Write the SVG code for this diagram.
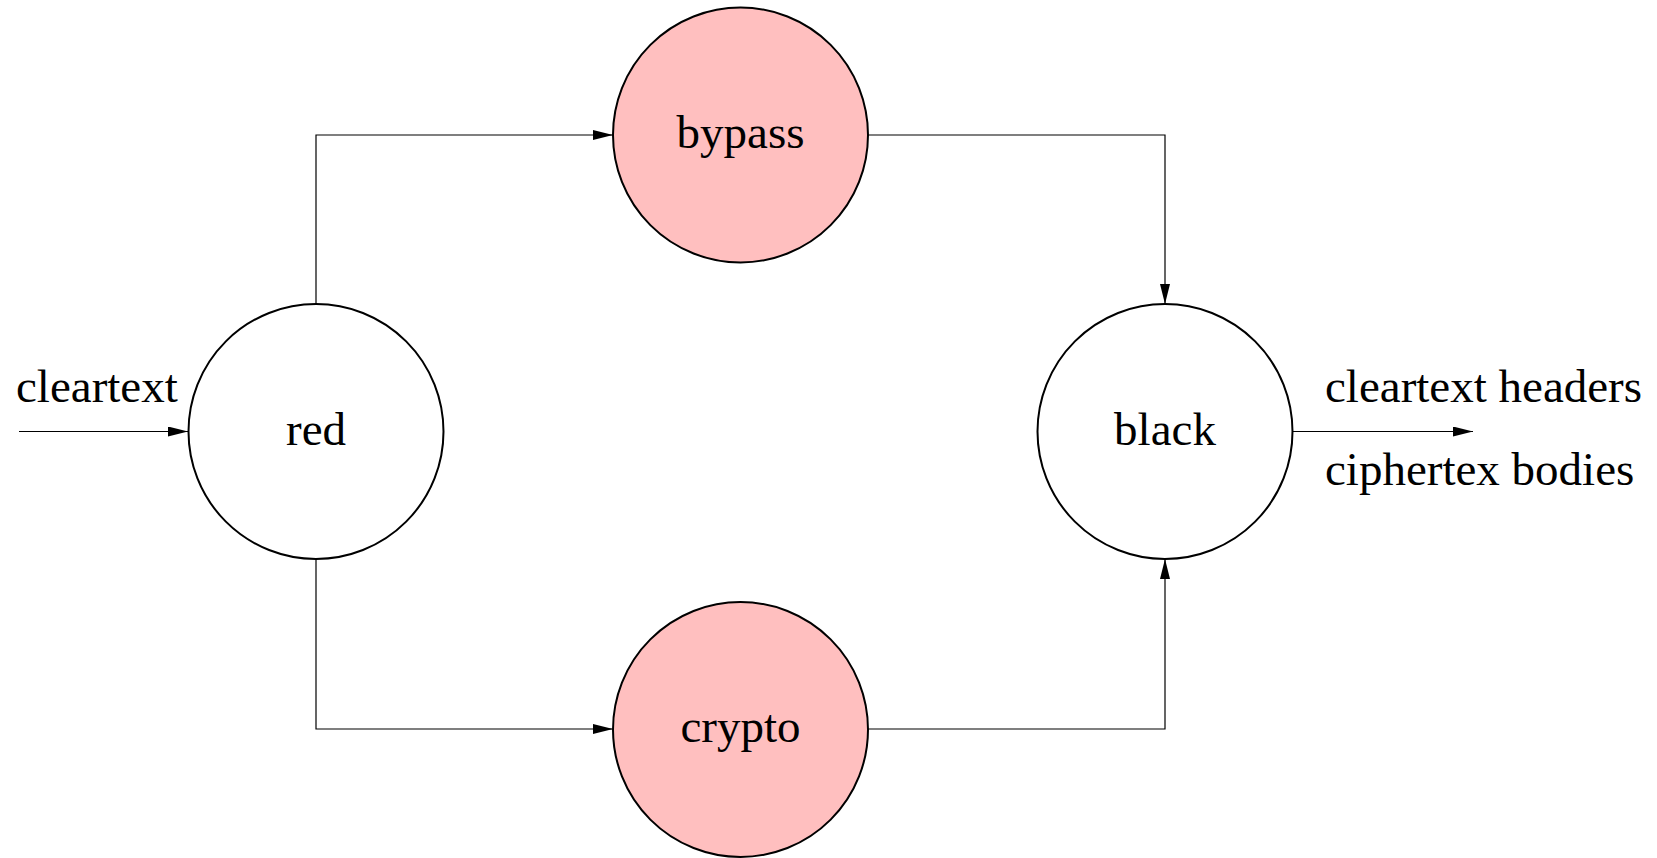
<svg xmlns="http://www.w3.org/2000/svg" width="1657" height="858" viewBox="0 0 1657 858">
<defs>
<style>
.node{stroke:#000;stroke-width:2}
.w{fill:#fff}
.p{fill:#ffbfbf}
.lbl{font-family:"Liberation Serif","Times New Roman",serif;font-size:47px;fill:#000}
.c{text-anchor:middle}
.e{fill:none;stroke:#000;stroke-width:1.2}
</style>
<marker id="ah" viewBox="0 0 20 10" refX="20" refY="5" markerWidth="20" markerHeight="10" markerUnits="userSpaceOnUse" orient="auto">
<path d="M0,0 L20,5 L0,10 Z" fill="#000"/>
</marker>
</defs>
<rect width="1657" height="858" fill="#fff"/>
<g id="connectors">
<path class="e" d="M19,431.5 L188,431.5" marker-end="url(#ah)"/>
<path class="e" d="M316,304 L316,135 L613,135" marker-end="url(#ah)"/>
<path class="e" d="M316,559 L316,729 L613,729" marker-end="url(#ah)"/>
<path class="e" d="M868,135 L1165,135 L1165,304" marker-end="url(#ah)"/>
<path class="e" d="M868,729 L1165,729 L1165,559" marker-end="url(#ah)"/>
<path class="e" d="M1293,431.5 L1473,431.5" marker-end="url(#ah)"/>
</g>
<g id="node-red">
<circle class="node w" cx="316" cy="431.5" r="127.5"/>
<text class="lbl c" x="316" y="445">red</text>
</g>
<g id="node-bypass">
<circle class="node p" cx="740.5" cy="135" r="127.5"/>
<text class="lbl c" x="740.5" y="148">bypass</text>
</g>
<g id="node-crypto">
<circle class="node p" cx="740.5" cy="729.5" r="127.5"/>
<text class="lbl c" x="740.5" y="742">crypto</text>
</g>
<g id="node-black">
<circle class="node w" cx="1165" cy="431.5" r="127.5"/>
<text class="lbl c" x="1165" y="445">black</text>
</g>
<g id="labels">
<text class="lbl" x="16" y="402">cleartext</text>
<text class="lbl" x="1325" y="402">cleartext headers</text>
<text class="lbl" x="1325" y="485">ciphertex bodies</text>
</g>
</svg>
